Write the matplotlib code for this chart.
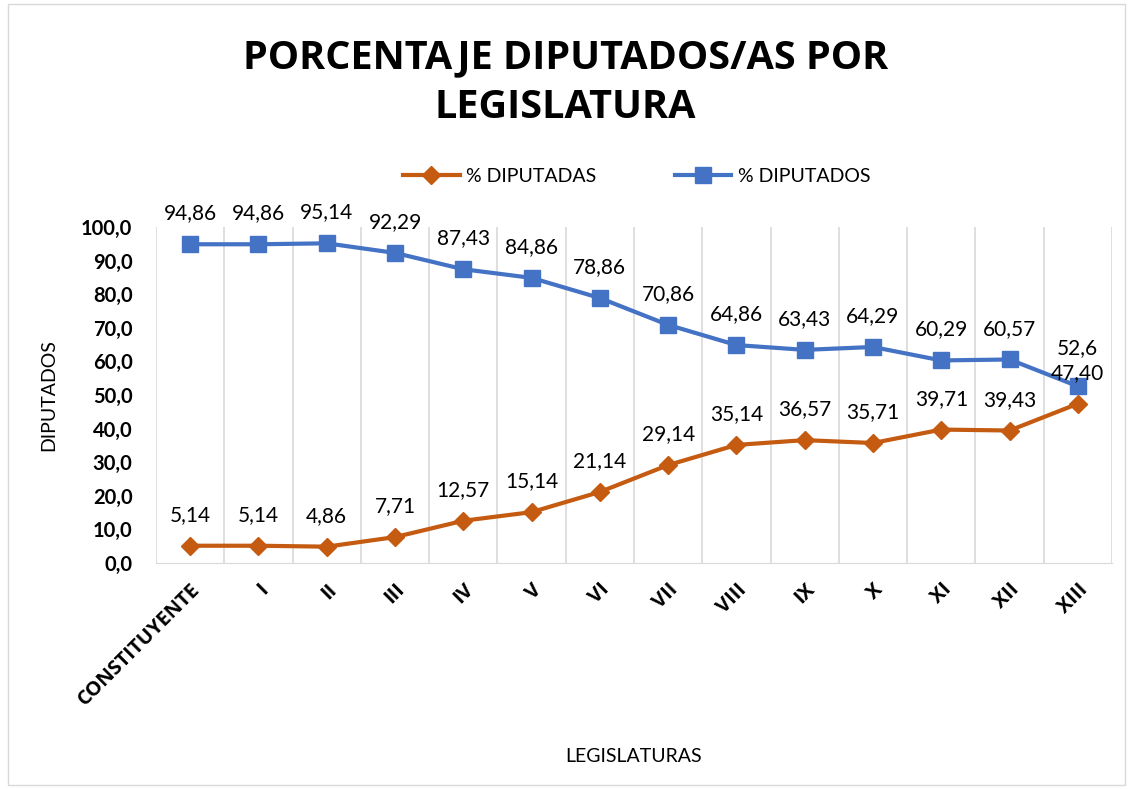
import matplotlib as mpl
mpl.use('Agg')
import matplotlib.pyplot as plt
from matplotlib.patches import Rectangle

plt.rcParams['font.family'] = ['Lato', 'DejaVu Sans']

legislaturas = ['CONSTITUYENTE', 'I', 'II', 'III', 'IV', 'V', 'VI', 'VII',
                'VIII', 'IX', 'X', 'XI', 'XII', 'XIII']
diputadas = [5.14, 5.14, 4.86, 7.71, 12.57, 15.14, 21.14, 29.14,
             35.14, 36.57, 35.71, 39.71, 39.43, 47.40]
diputados = [94.86, 94.86, 95.14, 92.29, 87.43, 84.86, 78.86, 70.86,
             64.86, 63.43, 64.29, 60.29, 60.57, 52.6]
lab_das = ['5,14', '5,14', '4,86', '7,71', '12,57', '15,14', '21,14', '29,14',
           '35,14', '36,57', '35,71', '39,71', '39,43', '47,40']
lab_dos = ['94,86', '94,86', '95,14', '92,29', '87,43', '84,86', '78,86', '70,86',
           '64,86', '63,43', '64,29', '60,29', '60,57', '52,6']

naranja = '#C55A11'
azul = '#4472C4'

fig = plt.figure(figsize=(11.31, 7.89), dpi=100)
ax = fig.add_axes([156 / 1131, 1 - 563 / 789, (1112 - 156) / 1131, (563 - 227) / 789])

x = list(range(len(legislaturas)))
ax.plot(x, diputadas, color=naranja, lw=3, marker='D', ms=9.5, label='% DIPUTADAS', zorder=3)
ax.plot(x, diputados, color=azul, lw=3, marker='s', ms=12, label='% DIPUTADOS', zorder=3)

for i in x:
    ax.annotate(lab_das[i], (i, diputadas[i]), xytext=(0, 15), textcoords='offset points',
                ha='center', va='bottom', fontsize=15, color='black')
    off = 15 if i < 13 else 20
    ax.annotate(lab_dos[i], (i, diputados[i]), xytext=(0, off), textcoords='offset points',
                ha='center', va='bottom', fontsize=15, color='black')

ax.set_xlim(-0.5, 13.5)
ax.set_ylim(0, 100)
ax.set_yticks(range(0, 101, 10))
ax.set_yticklabels([f'{v},0' for v in range(0, 101, 10)], fontweight='bold', fontsize=14.5)
ax.set_xticks(x)
ax.set_xticklabels(legislaturas, rotation=45, ha='right', rotation_mode='anchor',
                   fontweight='bold', fontsize=14.5, family=['Open Sans', 'DejaVu Sans'])
ax.tick_params(length=0)
ax.tick_params(axis='y', pad=17)
ax.tick_params(axis='x', pad=12)

# rejilla vertical entre categorias
for b in range(len(legislaturas) + 1):
    ax.axvline(b - 0.5, color='#D9D9D9', lw=1.2, zorder=0)
for s in ['top', 'right', 'left']:
    ax.spines[s].set_visible(False)
ax.spines['bottom'].set_color('#D9D9D9')

ax.set_xlabel('LEGISLATURAS', fontsize=14)
ax.xaxis.set_label_coords(0.5, -(748 - 563) / (563 - 227))
ax.set_ylabel('DIPUTADOS', fontsize=14)
ax.yaxis.set_label_coords(-(156 - 57) / (1112 - 156), 0.5)

fig.text(0.5, 1 - 58 / 789, 'PORCENTAJE DIPUTADOS/AS POR', ha='center', va='center',
         fontsize=28.5, fontweight='bold', family=['Open Sans', 'DejaVu Sans'])
fig.text(0.5, 1 - 108 / 789, 'LEGISLATURA', ha='center', va='center',
         fontsize=28.5, fontweight='bold', family=['Open Sans', 'DejaVu Sans'])

fig.legend(loc='center', bbox_to_anchor=(0.563, 1 - 176 / 789), ncol=2, frameon=False,
           fontsize=14, handlelength=2.9, handletextpad=0.35, columnspacing=4.0)

fig.add_artist(Rectangle((8 / 1131, 4 / 789), 1117 / 1131, 781 / 789, transform=fig.transFigure,
                         fill=False, edgecolor='#D9D9D9', lw=1))

plt.savefig('out.png', dpi=100)
plt.close()
